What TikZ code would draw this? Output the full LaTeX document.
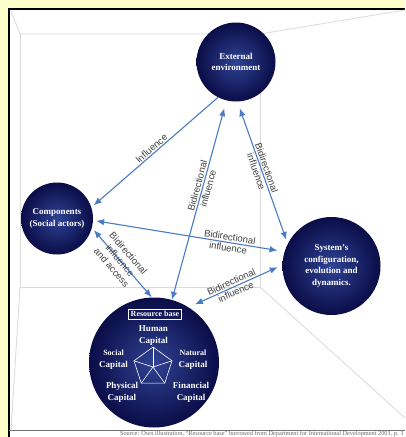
\documentclass[tikz,border=0pt]{standalone}
\usepackage{fontspec}
\setmainfont{Liberation Serif}
\setsansfont{Liberation Sans}
\usetikzlibrary{arrows.meta}
\definecolor{paper}{HTML}{FFFFCC}
\definecolor{ballin}{HTML}{2F4294}
\definecolor{ballout}{HTML}{0A0D47}
\definecolor{linkblue}{HTML}{4A7BC4}
\definecolor{wall}{HTML}{DADADA}
\tikzset{
	ball/.style={circle, inner color=ballin, outer color=ballout, text=white,
			align=center, font=\bfseries\fontsize{9}{11.5}\selectfont},
	link/.style={draw=linkblue, line width=1.1pt, -{Latex[length=8pt,width=6.5pt]}},
	bilink/.style={link, {Latex[length=8pt,width=6.5pt]}-{Latex[length=8pt,width=6.5pt]}},
	linklabel/.style={sloped, align=center, text=black!75, inner sep=1pt,
			font=\sffamily\fontsize{9.5}{11}\selectfont},
	capital/.style={text=white, align=center, inner sep=0pt,
			font=\bfseries\fontsize{9}{11.5}\selectfont}
}

\begin{document}
\begin{tikzpicture}[x=1pt, y=-1pt]
		\useasboundingbox (0,0) rectangle (405,437);
		% frame and room
		\fill[paper] (0,0) rectangle (405,437);
		\fill[white] (9,9) rectangle (405,437);
		\draw[line width=1.2pt] (9,437) -- (9,9) -- (405,9);
		\draw[black!55, line width=0.6pt] (9,430) -- (405,430);
		\draw[wall, line width=0.8pt] (11,11) -- (20,34) -- (260,34) -- (405,10);
		\draw[wall, line width=0.8pt] (20,34) -- (20,287) -- (260,287) -- (260,34);
		\draw[wall, line width=0.8pt] (20,287) -- (11,430);
		\draw[wall, line width=0.8pt] (260,287) -- (405,418);

		% the four spheres
		\node[ball, minimum size=79pt] (ext) at (236,62) {External\\environment};
		\node[ball, minimum size=72pt] (comp) at (57,218.5) {Components\\(Social actors)};
		\node[ball, minimum size=98pt] (sys) at (331.5,266) {System's\\configuration,\\evolution and\\dynamics.};
		\node[ball, minimum size=130pt] (res) at (154,362.5) {};

		% resource base
		\node[draw=white, line width=0.6pt, text=white, inner sep=2pt,
			font=\bfseries\fontsize{8}{9}\selectfont] (rbase) at (155,314) {Resource base};
		\coordinate (pent) at (153,367);
		\draw[white, line width=0.6pt] ([shift={(90:20pt)}]pent)
			\foreach \a in {18,-54,-126,162} {-- ([shift={(\a:20pt)}]pent)} -- cycle;
		\foreach \a in {90,18,-54,-126,162}
			\draw[white, line width=0.6pt] (pent) -- ([shift={(\a:20pt)}]pent);
		\node[capital] (human) at (153.5,335.5) {Human\\Capital};
		\node[capital] (social) at (113.5,359.5) {{\fontsize{8}{11.5}\selectfont Social}\\Capital};
		\node[capital] (natural) at (193,359.5) {{\fontsize{8}{11.5}\selectfont Natural}\\Capital};
		\node[capital] (physical) at (122,392.5) {Physical\\Capital};
		\node[capital] (financial) at (191,392.5) {Financial\\Capital};

		% influences
		\draw[link, shorten >=3pt] (ext.243) -- (comp.18)
			node[linklabel, pos=0.5, above] {Influence};
		\draw[bilink, shorten >=8pt] (res.74) -- (ext.256)
			node[linklabel, pos=0.565] {Bidirectional\\influence};
		\draw[bilink, shorten <=7pt, shorten >=4pt] (ext.272) -- (sys.153)
			node[linklabel, pos=0.48] {Bidirectional\\influence};
		\draw[bilink, shorten <=3pt, shorten >=7pt] (comp.-3) -- (sys.163)
			node[linklabel, pos=0.71] {Bidirectional\\influence};
		\draw[bilink, shorten <=3pt] (comp.-15) -- (res.92)
			node[linklabel, pos=0.47] {Bidirectional\\influence\\and access};
		\draw[bilink, shorten <=7pt, shorten >=5pt] (res.58) -- (sys.179)
			node[linklabel, pos=0.48] {Bidirectional\\influence};

		\node[anchor=east, text=black!60, inner sep=0pt, font=\fontsize{6.3}{7}\selectfont] (source) at (404,434)
			{Source: Own illustration, ``Resource base'' borrowed from Department for International Development 2001, p. 1};
	\end{tikzpicture}
\end{document}
